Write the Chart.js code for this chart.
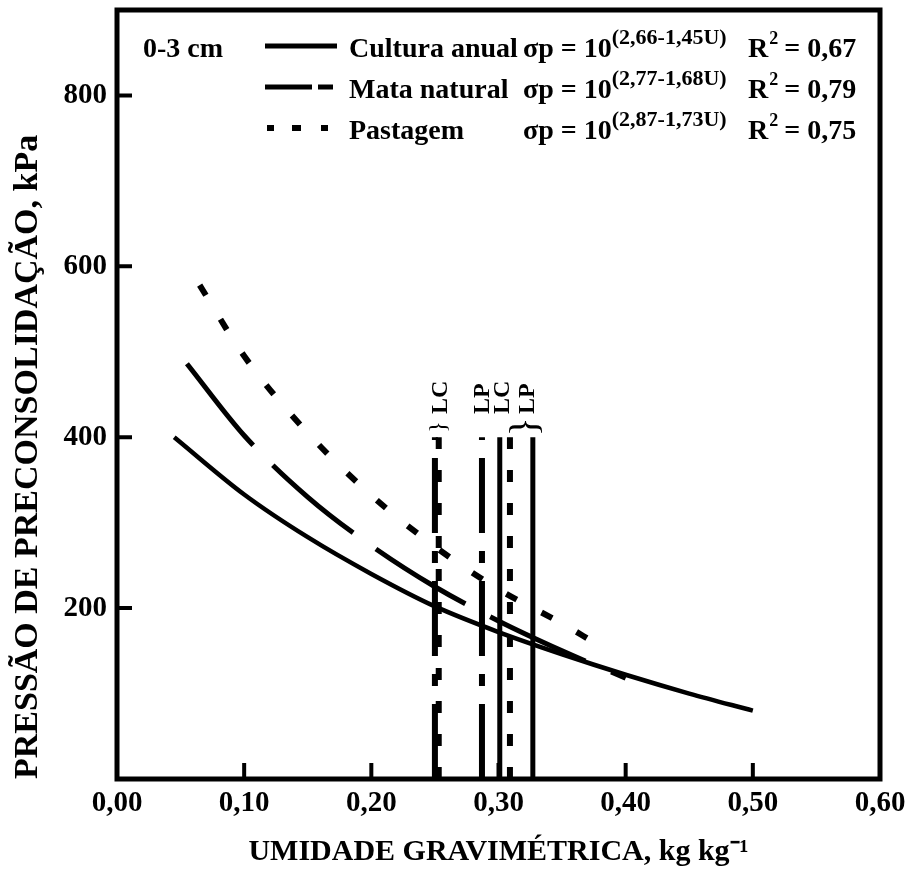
<!DOCTYPE html>
<html>
<head>
<meta charset="utf-8">
<script src="https://cdn.jsdelivr.net/npm/chart.js@4.4.1/dist/chart.umd.min.js"></script>
<style>
    html, body { margin: 0; padding: 0; background: #fff; }
</style>
</head>
<body>
<canvas id="chart" width="906" height="890"></canvas>
<script>
// --- data ---
const FONT = '"Liberation Serif", "Times New Roman", serif';

const xTicks = [0, 0.1, 0.2, 0.3, 0.4, 0.5, 0.6];
const yTicks = [200, 400, 600, 800];
const xInnerTicks = [0.1, 0.2, 0.3, 0.4, 0.5];

const depthLabel = '0-3 cm';
const seriesNames = ['Cultura anual', 'Mata natural', 'Pastagem'];
const eqExponents = ['(2,66-1,45U)', '(2,77-1,68U)', '(2,87-1,73U)'];
const r2Values = ['0,67', '0,79', '0,75'];

// umidade (kg/kg) vs pressão de preconsolidação (kPa)
const culturaU = [0.045, 0.10, 0.15, 0.20, 0.25, 0.30, 0.35, 0.40, 0.45, 0.50];
const culturaP = [400, 333, 283, 240, 202, 172, 146, 122, 100, 80];
const mataU = [0.055, 0.10, 0.15, 0.20, 0.25, 0.30, 0.35, 0.40];
const mataP = [486, 402, 330, 273, 225, 185, 150, 118];
const pastU = [0.065, 0.10, 0.15, 0.20, 0.25, 0.30, 0.35, 0.375];
const pastP = [578, 495, 405, 332, 272, 222, 182, 160];

// vertical limit lines (LC / LP), series index: 0 cultura, 1 mata, 2 pastagem
const limitU = [0.250, 0.253, 0.287, 0.301, 0.309, 0.327];
const limitSeries = [1, 2, 1, 0, 2, 0];
const limitTop = 400;
const limitLabels = ['LC', 'LP', 'LC', 'LP'];
const limitLabelU = [0.2535, 0.2865, 0.3025, 0.3225];
const braceU = [0.2530, 0.3220];

const lineStyles = [
    {borderDash: [], borderWidth: 4.5},
    {borderDash: [105, 28], borderWidth: 5},
    {borderDash: [12, 28], borderWidth: 6},
];
const limitStyles = [
    {borderDash: [], borderWidth: 5},
    {borderDash: [75, 18, 12, 18], borderWidth: 6},
    {borderDash: [12, 21], borderWidth: 6},
];

function toPoints(xs, ys) {
    return xs.map((x, i) => ({x: x, y: ys[i]}));
}

const datasets = [
    {data: toPoints(culturaU, culturaP), ...lineStyles[0]},
    {data: toPoints(mataU, mataP), ...lineStyles[1]},
    {data: toPoints(pastU, pastP), ...lineStyles[2]},
];
limitU.forEach((u, i) => {
    datasets.push({
        data: [{x: u, y: 0}, {x: u, y: limitTop}],
        ...limitStyles[limitSeries[i]],
        tension: 0,
    });
});
datasets.forEach((ds) => {
    ds.borderColor = '#000';
    ds.pointRadius = 0;
    ds.showLine = true;
    ds.fill = false;
    if (ds.tension === undefined) {
        ds.tension = 0.4;
        ds.cubicInterpolationMode = 'monotone';
    }
});

const framePlugin = {
    id: 'frame',
    afterDraw(chart) {
        const ctx = chart.ctx;
        const a = chart.chartArea;
        const xs = chart.scales.x;
        const ys = chart.scales.y;
        ctx.save();
        ctx.strokeStyle = '#000';
        ctx.lineWidth = 5;
        ctx.strokeRect(a.left, a.top, a.right - a.left, a.bottom - a.top);

        // inward tick marks
        ctx.lineWidth = 4;
        ctx.beginPath();
        yTicks.forEach((v) => {
            const py = ys.getPixelForValue(v);
            ctx.moveTo(a.left, py);
            ctx.lineTo(a.left + 15, py);
        });
        xInnerTicks.forEach((v) => {
            const px = xs.getPixelForValue(v);
            ctx.moveTo(px, a.bottom);
            ctx.lineTo(px, a.bottom - 16);
        });
        ctx.stroke();

        // legend
        ctx.fillStyle = '#000';
        ctx.textBaseline = 'alphabetic';
        ctx.textAlign = 'left';
        const big = 'bold 28px ' + FONT;
        const small = 'bold 22px ' + FONT;
        ctx.font = big;
        ctx.fillText(depthLabel, 143, 57);
        const rows = [57, 98, 139];
        rows.forEach((by, i) => {
            const ly = by - 11;
            ctx.lineWidth = 5;
            ctx.beginPath();
            if (i === 0) {
                ctx.moveTo(265, ly); ctx.lineTo(337, ly);
            } else if (i === 1) {
                ctx.moveTo(265, ly); ctx.lineTo(312, ly);
                ctx.moveTo(318, ly); ctx.lineTo(333, ly);
            } else {
                ctx.lineWidth = 6;
                ctx.moveTo(267, ly); ctx.lineTo(274, ly);
                ctx.moveTo(292, ly); ctx.lineTo(301, ly);
                ctx.moveTo(321, ly); ctx.lineTo(328, ly);
            }
            ctx.stroke();

            ctx.font = big;
            ctx.fillText(seriesNames[i], 349, by);
            const eq = '\u03C3p = 10';
            ctx.fillText(eq, 523, by);
            const w = ctx.measureText(eq).width;
            ctx.font = small;
            ctx.fillText(eqExponents[i], 523 + w, by - 13);
            ctx.font = big;
            ctx.fillText('R', 748, by);
            const wr = ctx.measureText('R').width;
            ctx.font = 'bold 18px ' + FONT;
            ctx.fillText('2', 748 + wr + 1, by - 13);
            ctx.font = big;
            ctx.fillText(' = ' + r2Values[i], 748 + wr + 9, by);
        });

        // limit labels, rotated
        limitLabels.forEach((t, i) => {
            const px = xs.getPixelForValue(limitLabelU[i]);
            ctx.save();
            ctx.translate(px, 414);
            ctx.rotate(-Math.PI / 2);
            ctx.font = 'bold 24px ' + FONT;
            ctx.textBaseline = 'middle';
            ctx.textAlign = 'left';
            ctx.fillText(t, 0, 1);
            ctx.restore();
        });
        braceU.forEach((u, i) => {
            const px = xs.getPixelForValue(u);
            ctx.save();
            ctx.translate(px, 427);
            ctx.rotate(-Math.PI / 2);
            ctx.font = (i === 0 ? '24px ' : '40px ') + FONT;
            ctx.textBaseline = 'middle';
            ctx.textAlign = 'center';
            ctx.fillText('}', 0, 0);
            ctx.restore();
        });
        ctx.restore();
    },
};

new Chart(document.getElementById('chart'), {
    type: 'scatter',
    data: {datasets: datasets},
    options: {
        responsive: false,
        animation: false,
        devicePixelRatio: 1,
        layout: {padding: {top: 10, right: 26, left: 0, bottom: 0}},
        plugins: {
            legend: {display: false},
            tooltip: {enabled: false},
        },
        scales: {
            x: {
                type: 'linear',
                min: 0,
                max: 0.6,
                afterBuildTicks: (s) => { s.ticks = xTicks.map((v) => ({value: v})); },
                afterFit: (s) => { s.height = 111; s.paddingLeft = 0; s.paddingRight = 0; },
                grid: {display: false, drawTicks: false},
                border: {display: false},
                ticks: {
                    color: '#000',
                    padding: 7,
                    autoSkip: false,
                    maxRotation: 0,
                    font: {family: FONT, size: 29, weight: 'bold'},
                    callback: (v) => v.toFixed(2).replace('.', ','),
                },
                title: {
                    display: true,
                    text: 'UMIDADE GRAVIMÉTRICA, kg kg\u207B\u00B9',
                    color: '#000',
                    font: {family: FONT, size: 30, weight: 'bold'},
                    padding: {top: 0, bottom: 20},
                },
            },
            y: {
                type: 'linear',
                min: 0,
                max: 900,
                afterBuildTicks: (s) => { s.ticks = yTicks.map((v) => ({value: v})); },
                afterFit: (s) => { s.width = 117; s.paddingTop = 0; s.paddingBottom = 0; },
                grid: {display: false, drawTicks: false},
                border: {display: false},
                ticks: {
                    color: '#000',
                    padding: 10,
                    font: {family: FONT, size: 29, weight: 'bold'},
                },
                title: {
                    display: true,
                    text: 'PRESSÃO DE PRECONSOLIDAÇÃO, kPa',
                    color: '#000',
                    align: 'start',
                    font: {family: FONT, size: 34, weight: 'bold'},
                    padding: {top: 8, bottom: 0},
                },
            },
        },
    },
    plugins: [framePlugin],
});
</script>
</body>
</html>
